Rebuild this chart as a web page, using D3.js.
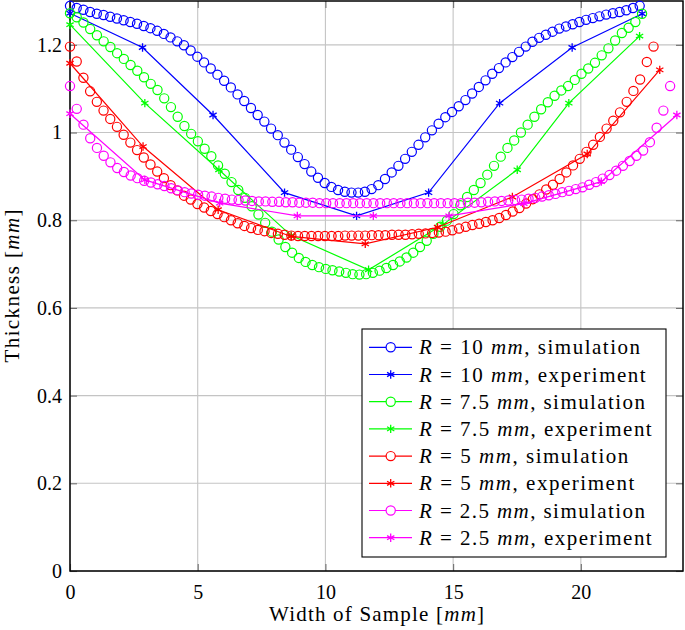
<!DOCTYPE html>
<html><head><meta charset="utf-8">
<script src="https://cdn.jsdelivr.net/npm/d3@7"></script>
<style>
body{margin:0;background:#fff}
svg{display:block}
text{font-family:"Liberation Serif","Times New Roman",serif;fill:#000}
</style>
</head><body><div id="chart"></div>
<script>
// ---------------- data ----------------
const radii = ["10", "7.5", "5", "2.5"];
const seriesColors = ["#0000ff", "#00ff00", "#ff0000", "#ff00ff"];
const xTicks = [0, 5, 10, 15, 20];
const yTicks = [0, 0.2, 0.4, 0.6, 0.8, 1.0, 1.2];
const yTickLabels = ["0", "0.2", "0.4", "0.6", "0.8", "1", "1.2"];

// simulation node spacing along the width (mm) for each radius
const simSpacing = [0.2624, 0.2635, 0.2626, 0.2640];

const simBlue = [1.289,1.284,1.280,1.275,1.271,1.268,1.264,1.260,1.256,1.252,
1.248,1.243,1.238,1.232,1.225,1.217,1.208,1.199,1.187,1.173,
1.160,1.146,1.132,1.118,1.103,1.087,1.072,1.056,1.040,1.025,
1.009,0.994,0.977,0.961,0.944,0.928,0.911,0.897,0.885,0.876,
0.869,0.865,0.863,0.863,0.865,0.871,0.880,0.894,0.909,0.924,
0.940,0.956,0.972,0.989,1.005,1.020,1.035,1.047,1.060,1.074,
1.089,1.104,1.119,1.134,1.147,1.160,1.172,1.184,1.196,1.207,
1.216,1.223,1.230,1.237,1.242,1.247,1.252,1.257,1.261,1.265,
1.269,1.272,1.275,1.279,1.284,1.289];

const simGreen = [1.272,1.263,1.251,1.236,1.222,1.208,1.195,1.181,1.168,1.154,
1.141,1.126,1.111,1.097,1.078,1.058,1.036,1.015,0.997,0.980,
0.963,0.946,0.925,0.906,0.887,0.869,0.851,0.832,0.813,0.794,
0.774,0.756,0.739,0.726,0.714,0.705,0.698,0.693,0.689,0.686,
0.683,0.680,0.677,0.676,0.677,0.680,0.685,0.691,0.698,0.706,
0.715,0.726,0.739,0.753,0.769,0.785,0.799,0.814,0.834,0.853,
0.869,0.885,0.904,0.924,0.945,0.965,0.982,1.000,1.018,1.036,
1.053,1.069,1.084,1.096,1.106,1.120,1.134,1.146,1.159,1.176,
1.192,1.210,1.227,1.239,1.252,1.271];

const simRed = [1.196,1.162,1.125,1.094,1.070,1.050,1.031,1.013,0.995,0.977,
0.960,0.943,0.927,0.911,0.896,0.880,0.868,0.856,0.847,0.837,
0.829,0.821,0.814,0.807,0.800,0.793,0.787,0.782,0.778,0.775,
0.771,0.769,0.767,0.765,0.764,0.764,0.764,0.764,0.764,0.764,
0.764,0.765,0.765,0.765,0.765,0.766,0.766,0.766,0.767,0.767,
0.767,0.768,0.769,0.770,0.771,0.772,0.774,0.777,0.781,0.785,
0.789,0.792,0.796,0.800,0.805,0.812,0.820,0.828,0.838,0.848,
0.859,0.870,0.881,0.894,0.909,0.925,0.940,0.956,0.972,0.990,
1.009,1.027,1.046,1.070,1.095,1.121,1.161,1.196];

const simMagenta = [1.106,1.054,1.018,0.987,0.965,0.947,0.932,0.919,0.910,0.902,
0.896,0.890,0.886,0.882,0.878,0.873,0.868,0.864,0.861,0.858,
0.856,0.854,0.851,0.849,0.847,0.846,0.845,0.844,0.843,0.843,
0.842,0.842,0.841,0.841,0.840,0.840,0.840,0.839,0.839,0.839,
0.839,0.839,0.839,0.839,0.839,0.839,0.839,0.839,0.839,0.839,
0.839,0.839,0.839,0.839,0.839,0.839,0.839,0.839,0.839,0.840,
0.840,0.841,0.842,0.843,0.844,0.845,0.846,0.847,0.849,0.851,
0.854,0.857,0.860,0.864,0.867,0.871,0.875,0.881,0.887,0.895,
0.903,0.913,0.924,0.935,0.947,0.959,0.978,1.011,1.050,1.106];

const expXBlue = [0, 2.84, 5.6, 8.4, 11.22, 14.04, 16.82, 19.66, 22.4];
const expYBlue = [1.272, 1.194, 1.040, 0.863, 0.810, 0.863, 1.067, 1.194, 1.271];
const expXGreen = [0, 2.93, 5.83, 8.66, 11.69, 14.6, 17.51, 19.53, 22.3];
const expYGreen = [1.246, 1.067, 0.915, 0.765, 0.687, 0.790, 0.915, 1.067, 1.220];
const expXRed = [0, 2.86, 5.8, 8.66, 11.56, 14.39, 17.32, 20.25, 23.09];
const expYRed = [1.158, 0.968, 0.824, 0.763, 0.746, 0.784, 0.853, 0.951, 1.143];
const expXMagenta = [0, 2.93, 5.86, 8.9, 11.875, 14.84, 17.77, 20.8, 23.76];
const expYMagenta = [1.043, 0.892, 0.839, 0.810, 0.810, 0.810, 0.838, 0.888, 1.040];

const simSeries = [simBlue, simGreen, simRed, simMagenta];
const expXSeries = [expXBlue, expXGreen, expXRed, expXMagenta];
const expYSeries = [expYBlue, expYGreen, expYRed, expYMagenta];

// ---------------- chart ----------------
const W = 685, H = 630;
const plot = {left: 70, right: 683, top: 1, bottom: 571};
const svg = d3.select("#chart").append("svg").attr("width", W).attr("height", H);

const x = d3.scaleLinear().domain([0, 24]).range([plot.left, plot.right]);
const y = d3.scaleLinear().domain([0, 1.3]).range([plot.bottom, plot.top]);

// grid
const grid = svg.append("g").attr("stroke", "#c4c4c4").attr("stroke-width", 1.1);
grid.selectAll(".gx").data(xTicks).join("line")
  .attr("x1", d => x(d)).attr("x2", d => x(d)).attr("y1", plot.top).attr("y2", plot.bottom);
grid.selectAll(".gy").data(yTicks).join("line")
  .attr("y1", d => y(d)).attr("y2", d => y(d)).attr("x1", plot.left).attr("x2", plot.right);

// axes with inward ticks
const tickLen = 7;
function styleAxis(g) {
  g.select(".domain").remove();
  g.selectAll(".tick line").attr("stroke", "#707070").attr("stroke-width", 1.1);
  g.selectAll(".tick text").attr("font-size", 20).attr("font-family", "Liberation Serif, serif").attr("fill", "#000");
}
svg.append("g").attr("transform", `translate(0,${plot.bottom})`)
  .call(d3.axisBottom(x).tickValues(xTicks).tickFormat(d3.format("d")).tickSize(-tickLen).tickPadding(14))
  .call(styleAxis);
svg.append("g").attr("transform", `translate(0,${plot.top})`)
  .call(d3.axisTop(x).tickValues(xTicks).tickFormat("").tickSize(-tickLen))
  .call(styleAxis);
svg.append("g").attr("transform", `translate(${plot.left},0)`)
  .call(d3.axisLeft(y).tickValues(yTicks).tickFormat((d, i) => yTickLabels[i]).tickSize(-tickLen).tickPadding(8))
  .call(styleAxis);
svg.append("g").attr("transform", `translate(${plot.right},0)`)
  .call(d3.axisRight(y).tickValues(yTicks).tickFormat("").tickSize(-tickLen))
  .call(styleAxis);

// frame
svg.append("rect").attr("x", plot.left).attr("y", plot.top)
  .attr("width", plot.right - plot.left).attr("height", plot.bottom - plot.top)
  .attr("fill", "none").attr("stroke", "#000").attr("stroke-width", 1.5);

// marker helpers
const circleR = 4.6, starR = 4.2;
const c30 = Math.cos(Math.PI / 6);
function starPath(r) {
  return `M0,${-r}L0,${r}M${-r * c30},${-r / 2}L${r * c30},${r / 2}M${-r * c30},${r / 2}L${r * c30},${-r / 2}`;
}

const line = d3.line().x(d => x(d[0])).y(d => y(d[1]));

const dataG = svg.append("g");
simSeries.forEach((vals, s) => {
  const color = seriesColors[s];
  const pts = vals.map((v, i) => [i * simSpacing[s], v]);
  dataG.append("g").selectAll("circle").data(pts).join("circle")
    .attr("cx", d => x(d[0])).attr("cy", d => y(d[1])).attr("r", circleR)
    .attr("fill", "none").attr("stroke", color).attr("stroke-width", 1.2);
  const epts = expXSeries[s].map((xv, i) => [xv, expYSeries[s][i]]);
  dataG.append("path").datum(epts).attr("d", line)
    .attr("fill", "none").attr("stroke", color).attr("stroke-width", 1.2);
  dataG.append("g").selectAll("path").data(epts).join("path")
    .attr("transform", d => `translate(${x(d[0])},${y(d[1])})`)
    .attr("d", starPath(starR)).attr("stroke", color).attr("stroke-width", 1.3).attr("fill", "none");
});

// axis titles
const xt = svg.append("text").attr("x", (plot.left + plot.right) / 2).attr("y", 621)
  .attr("text-anchor", "middle").attr("font-size", 21)
  .attr("textLength", 215).attr("lengthAdjust", "spacing");
xt.append("tspan").text("Width of Sample [");
xt.append("tspan").attr("font-style", "italic").text("mm");
xt.append("tspan").text("]");

const yt = svg.append("text").attr("transform", `translate(19,${(plot.top + plot.bottom) / 2}) rotate(-90)`)
  .attr("text-anchor", "middle").attr("font-size", 21)
  .attr("textLength", 153).attr("lengthAdjust", "spacing");
yt.append("tspan").text("Thickness [");
yt.append("tspan").attr("font-style", "italic").text("mm");
yt.append("tspan").text("]");

// legend
const legend = {x: 362, y: 329, w: 304, h: 228, row0: 347.3, rowH: 27.2};
const legendTextEnds = [640, 645.7, 645, 651.7, 628.3, 634.3, 645, 651.7];
const lg = svg.append("g");
lg.append("rect").attr("x", legend.x).attr("y", legend.y).attr("width", legend.w).attr("height", legend.h)
  .attr("fill", "#fff").attr("stroke", "#000").attr("stroke-width", 1.1);
const entries = [];
radii.forEach((r, s) => {
  entries.push({s, r, kind: "simulation"});
  entries.push({s, r, kind: "experiment"});
});
entries.forEach((e, k) => {
  const cy = legend.row0 + k * legend.rowH;
  const color = seriesColors[e.s];
  lg.append("line").attr("x1", 369).attr("x2", 412).attr("y1", cy).attr("y2", cy)
    .attr("stroke", color).attr("stroke-width", 1.2);
  if (e.kind === "simulation") {
    lg.append("circle").attr("cx", 390.7).attr("cy", cy).attr("r", circleR)
      .attr("fill", "#fff").attr("stroke", color).attr("stroke-width", 1.2);
  } else {
    lg.append("path").attr("transform", `translate(390.7,${cy})`).attr("d", starPath(starR))
      .attr("stroke", color).attr("stroke-width", 1.3);
  }
  const t = lg.append("text").attr("x", 419).attr("y", cy + 7).attr("font-size", 21)
    .attr("textLength", legendTextEnds[k] - 419).attr("lengthAdjust", "spacing");
  t.append("tspan").attr("font-style", "italic").text("R");
  t.append("tspan").text(" = " + e.r + " ");
  t.append("tspan").attr("font-style", "italic").text("mm");
  t.append("tspan").text(", " + e.kind);
});
</script>
</body></html>
